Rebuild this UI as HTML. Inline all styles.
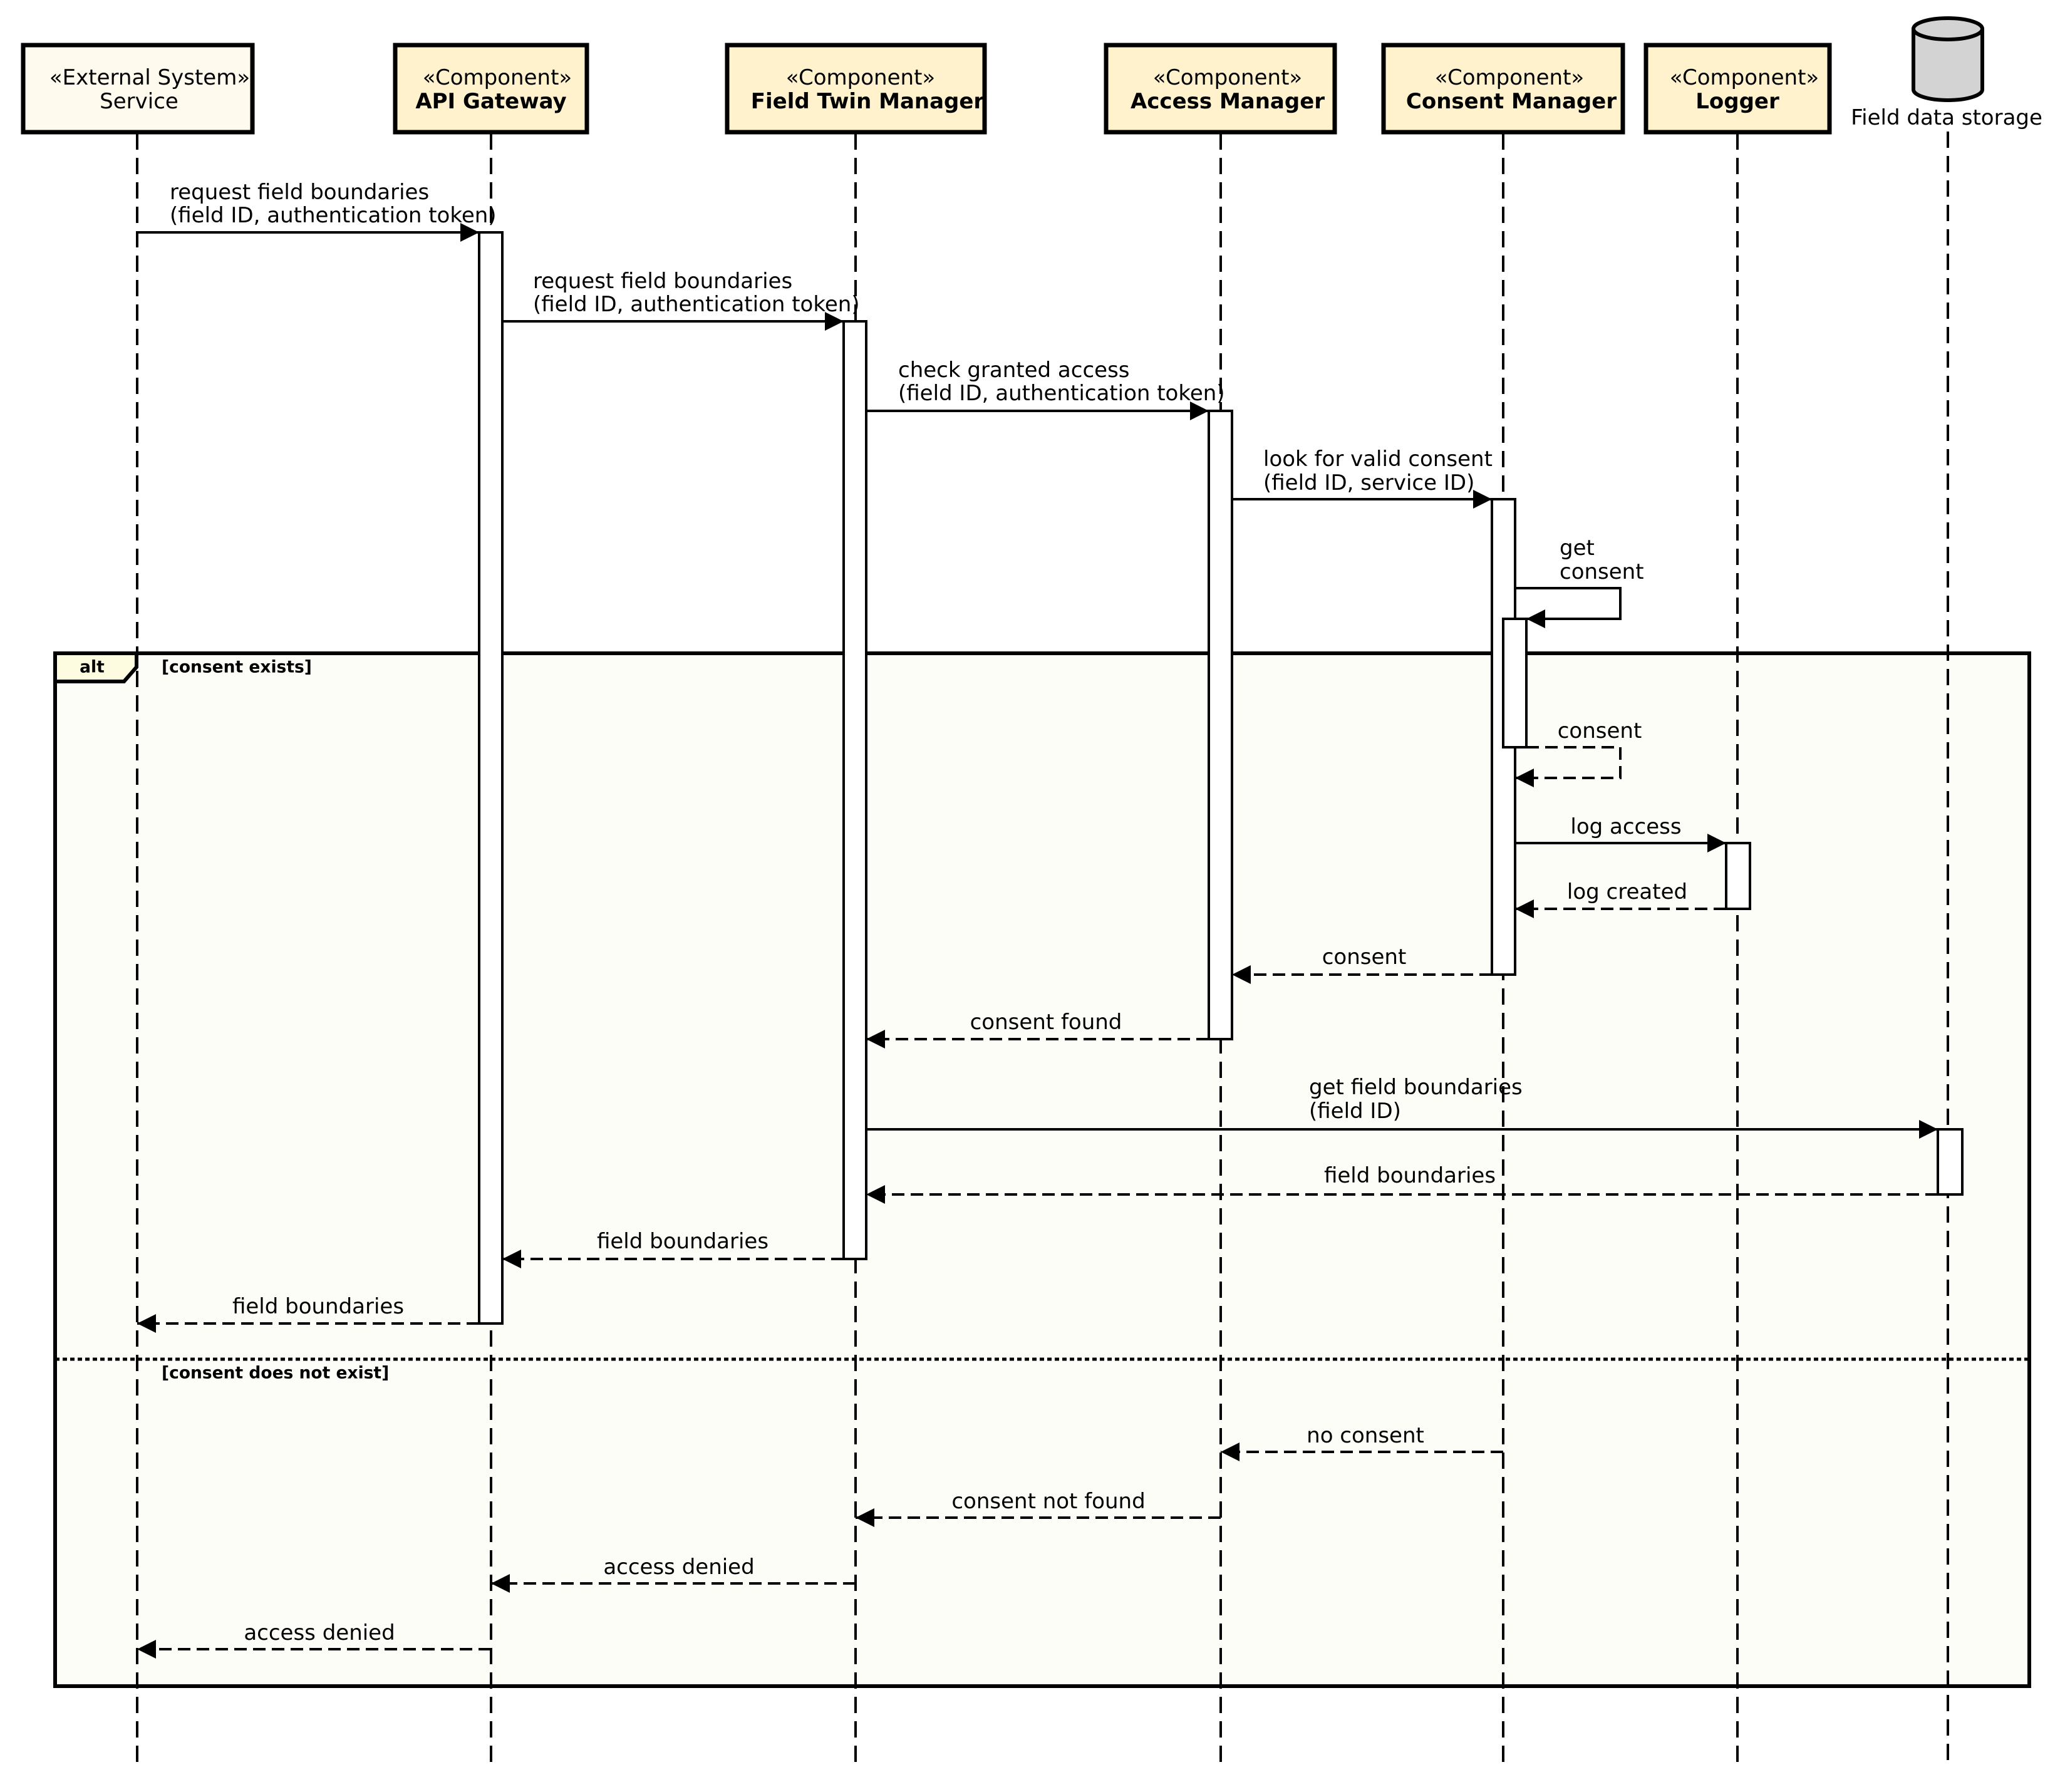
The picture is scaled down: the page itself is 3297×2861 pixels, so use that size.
<!DOCTYPE html>
<html><head><meta charset="utf-8"><style>
html,body{margin:0;padding:0;background:#fff}
svg{display:block}
text{font-family:"DejaVu Sans","Liberation Sans",sans-serif;font-size:34px;fill:#000;dominant-baseline:central}
.b{font-weight:bold}
.m{text-anchor:middle}
.ll{stroke:#000;stroke-width:4;stroke-dasharray:26 13;fill:none}
.s{stroke:#000;stroke-width:4;fill:none}
.d{stroke:#000;stroke-width:4;stroke-dasharray:20 10;fill:none}
.act{fill:#fff;stroke:#000;stroke-width:4}
.box{stroke:#000;stroke-width:7}
</style></head><body>
<svg width="3297" height="2861" viewBox="0 0 3297 2861" xmlns="http://www.w3.org/2000/svg">
<defs>
<marker id="a" viewBox="0 0 30 30" refX="30" refY="15" markerWidth="30" markerHeight="30" markerUnits="userSpaceOnUse" orient="auto">
<path d="M0,0 L30,15 L0,30 z" fill="#000"/></marker>
</defs>
<!-- alt frame -->
<rect x="88" y="1043" width="3152" height="1649" fill="#FDFDF7" stroke="#000" stroke-width="6"/>
<path d="M88,1043 L218,1043 L218,1065 L198,1088 L88,1088 z" fill="#FEFCE0" stroke="#000" stroke-width="6"/>
<text x="147" y="1065" class="b m" style="font-size:26.5px">alt</text>
<text x="258" y="1065" class="b" style="font-size:26.5px">[consent exists]</text>
<line x1="88" y1="2170" x2="3240" y2="2170" stroke="#000" stroke-width="5" stroke-dasharray="7 5"/>
<text x="258" y="2192" class="b" style="font-size:26.5px">[consent does not exist]</text>

<!-- lifelines -->
<line class="ll" x1="219" y1="213" x2="219" y2="2814"/>
<line class="ll" x1="784" y1="213" x2="784" y2="2814"/>
<line class="ll" x1="1366" y1="213" x2="1366" y2="2814"/>
<line class="ll" x1="1949" y1="213" x2="1949" y2="2814"/>
<line class="ll" x1="2400" y1="213" x2="2400" y2="2814"/>
<line class="ll" x1="2774" y1="213" x2="2774" y2="2814"/>
<line class="ll" x1="3110" y1="210" x2="3110" y2="2814"/>

<!-- header boxes -->
<rect class="box" x="37" y="72" width="366" height="139" fill="#FFFAEE"/>
<text x="239" y="124" class="m">«External System»</text>
<text x="222" y="162" class="m">Service</text>
<rect class="box" x="631" y="72" width="306" height="139" fill="#FFF2CC"/>
<text x="794" y="124" class="m">«Component»</text>
<text x="784" y="162" class="m b">API Gateway</text>
<rect class="box" x="1161" y="72" width="411" height="139" fill="#FFF2CC"/>
<text x="1374" y="124" class="m">«Component»</text>
<text x="1385" y="162" class="m b">Field Twin Manager</text>
<rect class="box" x="1766" y="72" width="365" height="139" fill="#FFF2CC"/>
<text x="1960" y="124" class="m">«Component»</text>
<text x="1960" y="162" class="m b">Access Manager</text>
<rect class="box" x="2209" y="72" width="382" height="139" fill="#FFF2CC"/>
<text x="2410" y="124" class="m">«Component»</text>
<text x="2413" y="162" class="m b">Consent Manager</text>
<rect class="box" x="2628" y="72" width="293" height="139" fill="#FFF2CC"/>
<text x="2785" y="124" class="m">«Component»</text>
<text x="2774" y="162" class="m b">Logger</text>
<!-- cylinder -->
<path d="M3055,46 L3055,143 A55,17 0 0 0 3165,143 L3165,46" fill="#D3D3D3" stroke="#000" stroke-width="6"/>
<ellipse cx="3110" cy="46" rx="55" ry="17" fill="#D3D3D3" stroke="#000" stroke-width="6"/>
<text x="3108" y="188" class="m">Field data storage</text>

<!-- activations -->
<rect class="act" x="765" y="371" width="37" height="1742"/>
<rect class="act" x="1347" y="513" width="36" height="1497"/>
<rect class="act" x="1930" y="656" width="37" height="1003"/>
<rect class="act" x="2382" y="797" width="37" height="759"/>
<rect class="act" x="2400" y="988" width="37" height="205"/>
<rect class="act" x="2756" y="1346" width="38" height="105"/>
<rect class="act" x="3094" y="1803" width="39" height="104"/>

<!-- messages -->
<line class="s" x1="219" y1="371" x2="765" y2="371" marker-end="url(#a)"/>
<text x="271" y="307">request field boundaries</text>
<text x="271" y="344">(field ID, authentication token)</text>

<line class="s" x1="802" y1="513" x2="1347" y2="513" marker-end="url(#a)"/>
<text x="851" y="449">request field boundaries</text>
<text x="851" y="486">(field ID, authentication token)</text>

<line class="s" x1="1383" y1="656" x2="1930" y2="656" marker-end="url(#a)"/>
<text x="1434" y="591">check granted access</text>
<text x="1434" y="628">(field ID, authentication token)</text>

<line class="s" x1="1967" y1="797" x2="2382" y2="797" marker-end="url(#a)"/>
<text x="2017" y="733">look for valid consent</text>
<text x="2017" y="771">(field ID, service ID)</text>

<path class="s" d="M2419,939 L2587,939 L2587,988 L2437,988" marker-end="url(#a)"/>
<text x="2490" y="875">get</text>
<text x="2490" y="913">consent</text>

<path class="d" d="M2437,1193 L2587,1193 L2587,1242 L2419,1242" marker-end="url(#a)"/>
<text x="2554" y="1167" class="m">consent</text>

<line class="s" x1="2419" y1="1346" x2="2756" y2="1346" marker-end="url(#a)"/>
<text x="2596" y="1320" class="m">log access</text>

<line class="d" x1="2756" y1="1451" x2="2419" y2="1451" marker-end="url(#a)"/>
<text x="2598" y="1424" class="m">log created</text>

<line class="d" x1="2382" y1="1556" x2="1967" y2="1556" marker-end="url(#a)"/>
<text x="2178" y="1528" class="m">consent</text>

<line class="d" x1="1930" y1="1659" x2="1383" y2="1659" marker-end="url(#a)"/>
<text x="1670" y="1632" class="m">consent found</text>

<line class="s" x1="1383" y1="1803" x2="3094" y2="1803" marker-end="url(#a)"/>
<text x="2090" y="1736">get field boundaries</text>
<text x="2090" y="1774">(field ID)</text>

<line class="d" x1="3094" y1="1907" x2="1383" y2="1907" marker-end="url(#a)"/>
<text x="2251" y="1877" class="m">field boundaries</text>

<line class="d" x1="1347" y1="2010" x2="802" y2="2010" marker-end="url(#a)"/>
<text x="1090" y="1982" class="m">field boundaries</text>

<line class="d" x1="765" y1="2113" x2="219" y2="2113" marker-end="url(#a)"/>
<text x="508" y="2086" class="m">field boundaries</text>

<line class="d" x1="2400" y1="2318" x2="1949" y2="2318" marker-end="url(#a)"/>
<text x="2180" y="2292" class="m">no consent</text>

<line class="d" x1="1949" y1="2423" x2="1366" y2="2423" marker-end="url(#a)"/>
<text x="1674" y="2397" class="m">consent not found</text>

<line class="d" x1="1366" y1="2528" x2="784" y2="2528" marker-end="url(#a)"/>
<text x="1084" y="2502" class="m">access denied</text>

<line class="d" x1="784" y1="2633" x2="219" y2="2633" marker-end="url(#a)"/>
<text x="510" y="2607" class="m">access denied</text>
</svg>
</body></html>
